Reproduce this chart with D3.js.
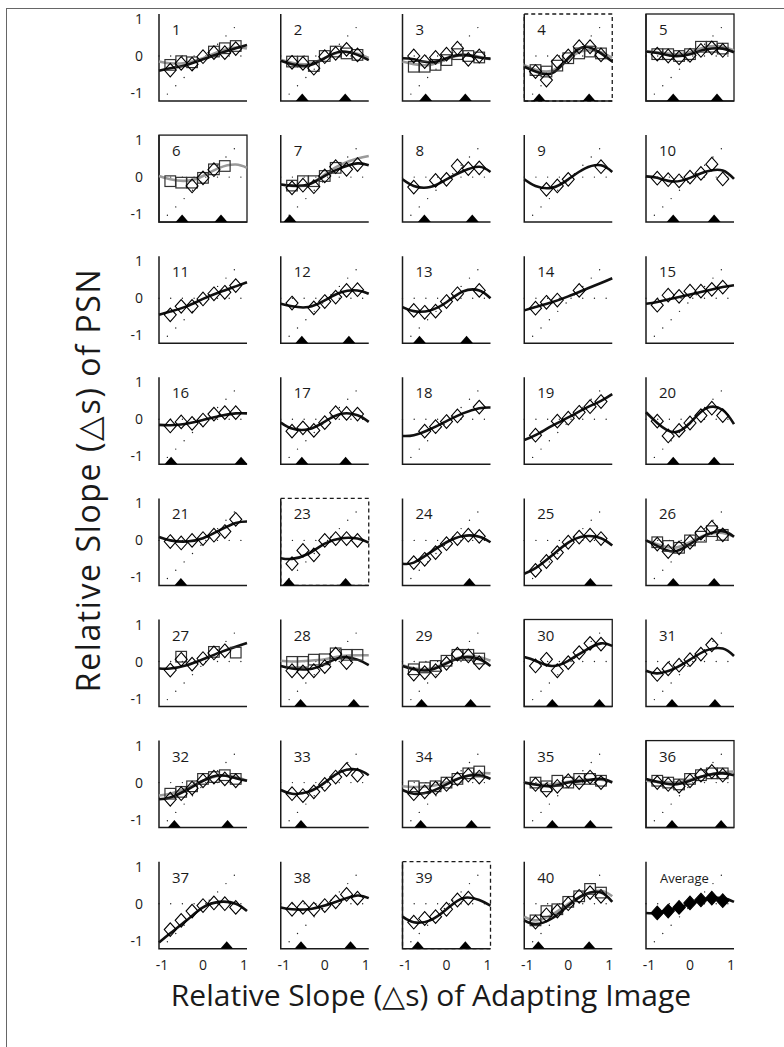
<!DOCTYPE html>
<html>
<head>
<meta charset="utf-8">
<script src="https://cdn.jsdelivr.net/npm/d3@7"></script>
<style>
  html, body { margin: 0; padding: 0; background: #fff; }
  svg { display: block; }
  text { font-family: "Open Sans", "Noto Sans", sans-serif; fill: #1a1a1a; }
</style>
</head>
<body>
<svg id="chart" width="784" height="1047"></svg>
<script>
// Probe slopes where each observer was measured, and where the fitted curves are sampled
const probeX = [-0.8, -0.533, -0.267, 0, 0.267, 0.533, 0.8];
const fitX = [-1.075, -0.8, -0.4, 0, 0.4, 0.8, 1.075];
const xTicks = [-1, 0, 1];
const yTicks = [1, 0, -1];

const panelLabels = ["1","2","3","4","5","6","7","8","9","10","11","12","13","14","15",
  "16","17","18","19","20","21","23","24","25","26","27","28","29","30","31",
  "32","33","34","35","36","37","38","39","40","Average"];

// PSN shifts, first condition (open diamonds)
const diamondVals = [
  [-0.38,-0.2,-0.22,-0.02,0.09,0.09,0.2],
  [-0.17,-0.2,-0.33,-0.02,0.07,0.18,0.03],
  [0,-0.15,-0.04,0.05,0.21,-0.09,0],
  [-0.42,-0.65,-0.15,0,0.25,0.25,0.03],
  [0.05,0,-0.05,0.02,0.15,0.22,0.15],
  [null,null,-0.24,-0.02,0.2,null,null],
  [-0.29,-0.22,-0.26,0.03,0.28,0.21,0.34],
  [-0.27,null,-0.09,-0.06,0.3,0.23,0.25],
  [null,-0.33,-0.24,-0.06,null,null,0.28],
  [-0.03,-0.07,-0.1,0,0.1,0.35,-0.05],
  [-0.45,-0.22,-0.22,-0.02,0.12,0.16,0.34],
  [-0.13,null,-0.26,-0.09,0.03,0.21,0.23],
  [-0.33,-0.38,-0.35,-0.09,0.12,null,0.21],
  [-0.27,-0.11,-0.05,null,0.21,null,null],
  [-0.19,0.08,0.05,0.19,0.19,0.24,0.3],
  [-0.18,-0.07,-0.11,-0.02,0.14,0.18,0.18],
  [-0.32,-0.23,-0.3,-0.09,0.18,0.16,0.14],
  [null,-0.32,-0.2,-0.06,0.09,null,0.33],
  [-0.43,null,-0.05,0.03,0.19,0.34,0.48],
  [-0.05,-0.45,-0.3,-0.1,0.1,0.3,0.1],
  [-0.03,-0.07,0,0.05,0.14,0.24,0.57],
  [-0.63,-0.27,-0.39,0,0.05,0.05,0],
  [-0.6,-0.51,-0.33,-0.09,0.05,0.14,0.11],
  [-0.81,-0.57,-0.33,-0.05,0.09,0.14,0.05],
  [-0.1,-0.3,-0.2,-0.05,0.2,0.35,0.15],
  [-0.23,0.06,-0.07,0.08,0.23,0.29,null],
  [-0.25,-0.28,-0.25,-0.14,0.2,-0.03,null],
  [-0.34,-0.3,-0.25,-0.05,0.2,0.15,-0.03],
  [-0.12,0.06,-0.25,-0.03,0.24,0.49,0.47],
  [-0.35,-0.2,-0.1,0.05,0.2,0.45,null],
  [-0.45,-0.3,-0.15,0.05,0.15,0.1,0.05],
  [-0.3,-0.35,-0.25,-0.05,0.15,0.35,0.2],
  [-0.3,-0.25,-0.15,-0.05,0.1,0.2,0.15],
  [-0.05,-0.2,-0.1,0.05,0,0.15,0],
  [0,-0.05,-0.1,0.05,0.2,0.3,0.2],
  [-0.7,-0.45,-0.2,-0.05,0.02,0,-0.1],
  [-0.15,-0.1,-0.15,-0.05,0.05,0.25,0.15],
  [-0.5,-0.4,-0.35,-0.15,0.1,0.15,null],
  [-0.5,-0.3,-0.2,0,0.2,0.3,0.2],
  [-0.25,-0.2,-0.1,0.02,0.1,0.15,0.08]
];

// PSN shifts, second condition (open squares); null where not run
const squareVals = [
  [-0.24,-0.14,-0.17,null,0.12,0.21,0.27],
  [-0.15,-0.15,-0.27,0,0.12,0.07,0.03],
  [-0.29,-0.29,-0.24,-0.11,0.05,0,-0.04],
  [-0.38,-0.42,-0.26,-0.06,0.07,0.12,0.07],
  [0.05,0.05,0,0.05,0.25,0.25,0.2],
  [-0.11,-0.15,-0.15,-0.02,0.21,0.3,null],
  [-0.23,-0.11,-0.11,0.03,0.25,null,null],
  null,null,null,null,null,null,null,null,null,null,null,null,null,null,null,null,null,
  [-0.05,-0.15,-0.2,0,0.1,0.25,0.15],
  [null,0.13,null,null,0.26,null,0.24],
  [-0.01,-0.01,0.05,0.06,0.22,0.18,0.18],
  [-0.21,-0.16,-0.12,0.02,0.18,0.18,0.08],
  null,null,
  [-0.3,-0.25,-0.1,0.1,0.15,0.2,0.1],
  null,
  [-0.1,-0.15,-0.1,0,0.1,0.25,0.3],
  [0,-0.1,0.05,0,0.1,0.1,0.05],
  [0.05,0,-0.05,0.1,0.2,0.25,0.25],
  null,null,null,
  [-0.45,-0.2,-0.15,0.05,0.2,0.4,0.3],
  null
];

// Fitted curve for the diamonds (black), sampled at fitX
const blackFit = [
  [-0.4,-0.33,-0.24,-0.09,0.07,0.21,0.3],
  [-0.13,-0.22,-0.26,-0.06,0.12,0.03,-0.11],
  [-0.06,-0.09,-0.17,-0.06,0.03,-0.04,-0.07],
  [-0.29,-0.42,-0.47,-0.06,0.25,0.07,-0.15],
  [0.12,0.08,0,0.05,0.18,0.2,0.1],
  null,
  [-0.2,-0.23,-0.2,0.03,0.25,0.37,0.32],
  [-0.06,-0.24,-0.27,-0.06,0.16,0.28,0.14],
  [-0.06,-0.24,-0.29,-0.06,0.23,0.32,0.14],
  [0.02,-0.02,-0.12,-0.02,0.15,0.18,-0.05],
  [-0.45,-0.36,-0.22,-0.02,0.16,0.32,0.43],
  [-0.15,-0.22,-0.24,-0.06,0.16,0.21,0.12],
  [-0.24,-0.35,-0.33,-0.11,0.18,0.21,0],
  [-0.33,-0.24,-0.11,0.05,0.23,0.41,0.54],
  [-0.15,-0.1,0,0.1,0.2,0.3,0.35],
  [-0.15,-0.16,-0.12,-0.02,0.09,0.16,0.16],
  [-0.09,-0.25,-0.27,-0.06,0.15,0.11,-0.07],
  [-0.45,-0.43,-0.27,-0.05,0.16,0.3,0.32],
  [-0.56,-0.43,-0.18,0.05,0.29,0.5,0.68],
  [0.19,-0.1,-0.35,-0.1,0.3,0.25,-0.13],
  [0.09,0,-0.03,0.06,0.27,0.47,0.51],
  [-0.48,-0.5,-0.36,-0.09,0.06,0.05,-0.06],
  [-0.63,-0.6,-0.33,-0.05,0.12,0.1,-0.05],
  [-0.9,-0.75,-0.41,-0.06,0.11,0.06,-0.14],
  [0,-0.15,-0.3,-0.1,0.15,0.25,0.1],
  [-0.19,-0.19,-0.1,0.06,0.24,0.4,0.5],
  [-0.12,-0.19,-0.21,-0.07,0.11,0.05,-0.1],
  [-0.12,-0.21,-0.23,-0.05,0.11,0.06,-0.12],
  [0.12,0.02,-0.12,0.02,0.29,0.49,0.42],
  [-0.25,-0.32,-0.2,0.05,0.3,0.35,0.15],
  [-0.45,-0.4,-0.2,0.05,0.2,0.12,0.05],
  [-0.2,-0.3,-0.25,0,0.3,0.35,0.2],
  [-0.2,-0.3,-0.25,-0.05,0.15,0.2,0.1],
  [0,-0.05,-0.1,0,0.05,0.1,0],
  [0.1,0.02,-0.05,0.05,0.2,0.25,0.2],
  [-1.05,-0.8,-0.45,-0.1,0.05,0,-0.2],
  [-0.1,-0.15,-0.15,-0.05,0.1,0.22,0.15],
  [-0.35,-0.5,-0.45,-0.15,0.15,0.1,-0.05],
  [-0.45,-0.55,-0.4,-0.05,0.25,0.3,0.05],
  [-0.25,-0.25,-0.15,0,0.13,0.15,0.05]
];

// Fitted curve for the squares (grey), sampled at fitX
const grayFit = [
  [-0.15,-0.2,-0.18,-0.06,0.12,0.23,0.2],
  [-0.1,-0.18,-0.22,-0.05,0.1,0.06,-0.05],
  [-0.15,-0.22,-0.24,-0.09,0.03,-0.02,-0.09],
  [-0.25,-0.37,-0.4,-0.08,0.15,0.1,-0.05],
  [0.12,0.1,0.05,0.1,0.25,0.25,0.15],
  [0.03,-0.06,-0.1,0.03,0.25,0.34,0.25],
  [-0.2,-0.24,-0.2,0.07,0.34,0.5,0.57],
  null,null,null,null,null,null,null,null,null,null,null,null,null,null,null,null,null,
  [0,-0.1,-0.2,-0.05,0.15,0.2,0.1],
  null,
  [0.02,0,0.02,0.06,0.15,0.17,0.17],
  [-0.1,-0.18,-0.2,-0.03,0.13,0.12,0.02],
  null,null,
  [-0.35,-0.3,-0.15,0.05,0.18,0.15,0.05],
  null,
  [-0.1,-0.12,-0.1,0,0.15,0.25,0.25],
  [0,-0.05,-0.05,0.02,0.08,0.08,0.02],
  [0.05,0.02,0,0.08,0.2,0.28,0.3],
  null,null,null,
  [-0.35,-0.45,-0.3,0,0.25,0.35,0.2],
  null
];

// Slopes of the adapting images (filled triangles on the x axis)
const adaptMarks = [
  [],[-0.55,0.5],[-0.51,0.46],[-0.71,0.51],[-0.41,0.66],
  [-0.51,0.44],[-0.85],[-0.54,0.63],[],[-0.41,0.59],
  [],[-0.56,0.59],[-0.66,0.49],[],[],
  [-0.78,0.93],[-0.56,0.51],[],[],[-0.41,0.59],
  [-0.54],[-0.88,0.51],[0.56],[0.54],[-0.41,0.59],
  [],[-0.59,0.71],[-0.61,0.59],[-0.39,0.76],[-0.44,0.61],
  [-0.7,0.6],[-0.58],[-0.63,0.61],[-0.39,0.54],[-0.44,0.76],
  [0.58],[-0.58,0.63],[-0.7,0.46],[-0.73,0.51],[]
];

// Panel outline style: "" = L-shaped axes, "solid" box, "dashed" box
const panelFrames = ["","","","dashed","solid","solid","","","","",
  "","","","","","","","","","",
  "","dashed","","","","","","","solid","",
  "","","","","solid","","","dashed","",""];

// Reference guides: unity diagonal and zero line
const diagX = [-0.87, 0.95];
const diagY = [-1.03, 0.97];

const svg = d3.select("#chart");
const W = 784, H = 1047;

// outer figure frame
svg.append("rect").attr("x", 6.5).attr("y", 8.5).attr("width", W + 20).attr("height", H + 20)
  .attr("fill", "none").attr("stroke", "#666").attr("stroke-width", 1);

const nCols = 5, nRows = 8;
const pw = 88, ph = 87;
const colScale = d3.scaleLinear().domain([0, 1]).range([159, 280.75]);
const rowScale = d3.scaleLinear().domain([0, 1]).range([14, 135.1]);

const x = d3.scaleLinear().domain([-1.075, 1.075]).range([0, pw]);
const y = d3.scaleLinear().domain([-1.216, 1.135]).range([ph, 0]);

const fitLine = d3.line().x(d => x(d[0])).y(d => y(d[1])).curve(d3.curveNatural);
const guideLine = d3.line().x(d => x(d[0])).y(d => y(d[1]));

panelLabels.forEach((lab, i) => {
  const c = i % nCols, r = Math.floor(i / nCols);
  const g = svg.append("g").attr("transform", `translate(${colScale(c)},${rowScale(r)})`);

  // dotted guides
  g.append("path")
    .attr("d", guideLine([[diagX[0], diagY[0]], [diagX[1], diagY[1]]]))
    .attr("fill", "none").attr("stroke", "#222").attr("stroke-width", 1.4)
    .attr("stroke-linecap", "round").attr("stroke-dasharray", "0 11.8");
  g.append("path")
    .attr("d", guideLine([[-1.075, 0], [1.075, 0]]))
    .attr("fill", "none").attr("stroke", "#222").attr("stroke-width", 1.4)
    .attr("stroke-linecap", "round").attr("stroke-dasharray", "0 11.7");

  // frames / axes
  if (panelFrames[i]) {
    g.append("rect").attr("x", 0).attr("y", 0).attr("width", pw).attr("height", ph)
      .attr("fill", "none").attr("stroke", "#1a1a1a").attr("stroke-width", 1.3)
      .attr("stroke-dasharray", panelFrames[i] === "dashed" ? "4 3" : null);
  }
  g.append("path").attr("d", `M0,0V${ph}H${pw}`)
    .attr("fill", "none").attr("stroke", "#1a1a1a").attr("stroke-width", 1.5);

  // adapting-image slope markers
  g.selectAll("path.tri").data(adaptMarks[i]).join("path").attr("class", "tri")
    .attr("d", d => `M${x(d) - 6.5},${ph}L${x(d)},${ph - 7.5}L${x(d) + 6.5},${ph}Z`)
    .attr("fill", "#000");

  const pts = (vals) => vals ? probeX.map((px, k) => [px, vals[k]]).filter(d => d[1] !== null) : [];
  const fitPts = (vals) => fitX.map((fx, k) => [fx, vals[k]]);

  if (grayFit[i]) {
    g.append("path").attr("d", fitLine(fitPts(grayFit[i])))
      .attr("fill", "none").attr("stroke", "#9a9a9a").attr("stroke-width", 2.6);
  }
  if (blackFit[i]) {
    g.append("path").attr("d", fitLine(fitPts(blackFit[i])))
      .attr("fill", "none").attr("stroke", "#111").attr("stroke-width", 2.6);
  }

  // squares
  g.selectAll("rect.sq").data(pts(squareVals[i])).join("rect").attr("class", "sq")
    .attr("x", d => x(d[0]) - 5.3).attr("y", d => y(d[1]) - 5.3)
    .attr("width", 10.6).attr("height", 10.6)
    .attr("fill", "none").attr("stroke", "#333").attr("stroke-width", 1.2);

  // diamonds
  const isAvg = lab === "Average";
  const hw = isAvg ? 6.2 : 6, hh = isAvg ? 6.8 : 6.8;
  g.selectAll("path.dm").data(pts(diamondVals[i])).join("path").attr("class", "dm")
    .attr("d", d => {
      const cx = x(d[0]), cy = y(d[1]);
      return `M${cx},${cy - hh}L${cx + hw},${cy}L${cx},${cy + hh}L${cx - hw},${cy}Z`;
    })
    .attr("fill", isAvg ? "#000" : "none").attr("stroke", "#000").attr("stroke-width", 1.1);

  // panel number
  g.append("text").attr("x", isAvg ? 14 : 13).attr("y", 21)
    .attr("font-size", isAvg ? 13 : 15).text(lab);

  // y tick labels on first column
  if (c === 0) {
    g.selectAll("text.yt").data(yTicks).join("text").attr("class", "yt")
      .attr("x", -16).attr("y", d => y(d)).attr("dy", "0.36em")
      .attr("text-anchor", "end").attr("font-size", 14).text(d => d);
  }
  // x tick labels under last row
  if (r === nRows - 1) {
    g.selectAll("text.xt").data(xTicks).join("text").attr("class", "xt")
      .attr("x", d => x(d)).attr("y", ph + 21)
      .attr("text-anchor", "middle").attr("font-size", 14).text(d => d);
  }
});

// axis titles
svg.append("text").attr("transform", "translate(100,480) rotate(-90)")
  .attr("text-anchor", "middle").attr("font-size", 32).attr("letter-spacing", 1.6)
  .text("Relative Slope (\u25B3s) of PSN");
svg.append("text").attr("x", 431).attr("y", 1006)
  .attr("text-anchor", "middle").attr("font-size", 30)
  .text("Relative Slope (\u25B3s) of Adapting Image");
</script>
</body>
</html>
